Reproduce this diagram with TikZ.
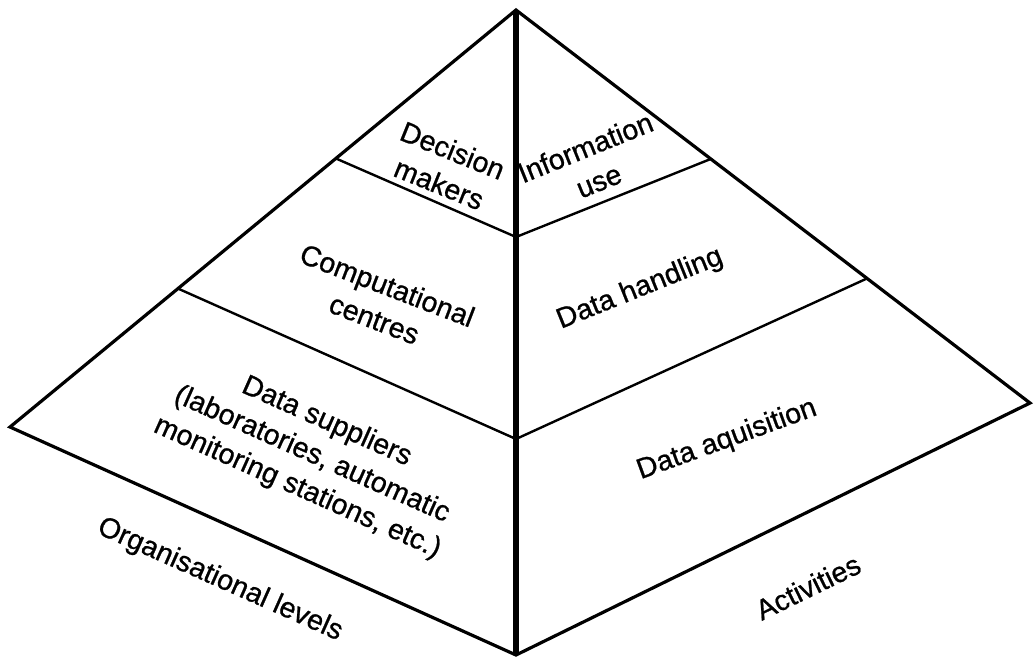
\documentclass[tikz,border=0pt]{standalone}
\usepackage{fontspec}
\setmainfont{Liberation Sans}
\newfontfamily\lblfont{Liberation Sans}[BoldFont={Liberation Sans},BoldFeatures={FakeBold=0.8}]
\usetikzlibrary{calc}
\begin{document}
\begin{tikzpicture}[x=0.75pt,y=-0.75pt,
  outline/.style={line width=2.4pt,line join=miter},
  axisline/.style={line width=3.8pt},
  layerline/.style={line width=1.8pt},
  lbl/.style={align=center,inner sep=0pt,font={\lblfont\bfseries\fontsize{21.4}{27}\selectfont}}]
\useasboundingbox (0,0) rectangle (1034,658);
\coordinate (A) at (516,10);
\coordinate (L) at (10,427);
\coordinate (R) at (1030,403);
\coordinate (B) at (516,655);
\coordinate (L1) at ($(A)!0.356!(L)$);
\coordinate (L2) at ($(A)!0.668!(L)$);
\coordinate (R1) at ($(A)!0.379!(R)$);
\coordinate (R2) at ($(A)!0.683!(R)$);
\coordinate (C1) at (516,237);
\coordinate (C2) at (516,439);
\draw[outline] (A) -- (L) -- (B) -- (R) -- cycle;
\draw[axisline] (A) -- (B);
\draw[layerline] (L1) -- (C1) -- (R1);
\draw[layerline] (L2) -- (C2) -- (R2);
\node[lbl,rotate=-22] (dm) at (446,167) {Decision\\makers};
\node[lbl,rotate=22] (iu) at (592,164) {Information\\use};
\node[lbl,rotate=-21] (cc) at (381,302) {Computational\\centres};
\node[lbl,rotate=22] (dh) at (640,289) {Data handling};
\node[lbl,rotate=-24] (ds) at (312,455) {Data suppliers\\(laboratories, automatic\\monitoring stations, etc.)};
\node[lbl,rotate=20] (da) at (727,440) {Data aquisition};
\node[lbl,rotate=-24] (ol) at (220,580) {Organisational levels};
\node[lbl,rotate=26] (ac) at (808,587) {Activities};
\end{tikzpicture}
\end{document}
